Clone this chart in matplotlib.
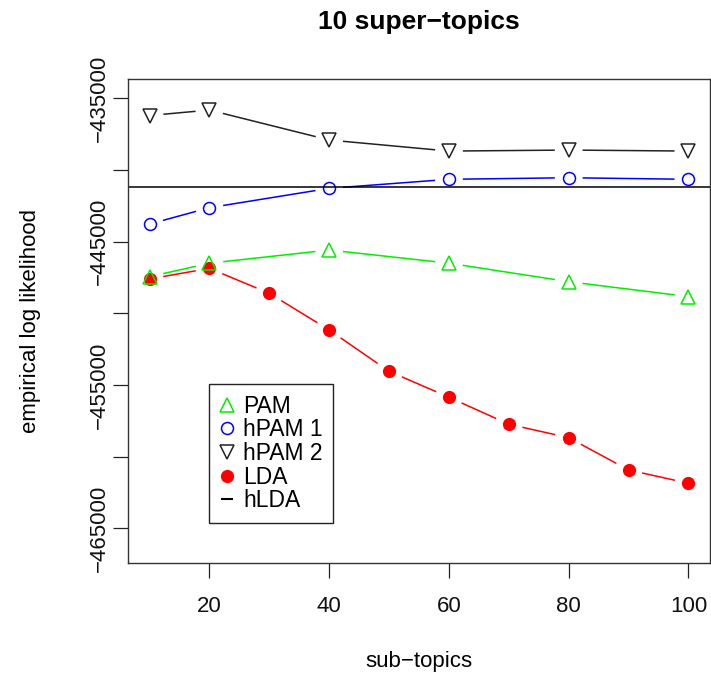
import matplotlib
matplotlib.use('Agg')
import matplotlib.pyplot as plt
import numpy as np

plt.rcParams['font.family'] = ['Liberation Sans', 'DejaVu Sans']

# data
x_pam = [10, 20, 40, 60, 80, 100]
pam = [-447440, -446500, -445580, -446500, -447790, -448830]
hpam1 = [-443770, -442630, -441280, -440650, -440540, -440650]
hpam2 = [-436200, -435820, -437910, -438680, -438610, -438680]
x_lda = [10, 20, 30, 40, 50, 60, 70, 80, 90, 100]
lda = [-447600, -446860, -448600, -451160, -454040, -455850, -457730, -458670, -460920, -461850]
hlda = -441165

yticks = [-435000, -440000, -445000, -450000, -455000, -460000, -465000]
ytick_labels = ['\u2212435000', '', '\u2212445000', '', '\u2212455000', '', '\u2212465000']
xticks = [20, 40, 60, 80, 100]

fig = plt.figure(figsize=(7.11, 6.78), dpi=100)
ax = fig.add_axes([128 / 711, 1 - 563.3 / 678, 582 / 711, (563.3 - 79.3) / 678])
ax.set_xlim(6.4, 103.6)
ax.set_ylim(-467430, -433675)


def gap_line(xs, ys, color, gap_pt=10):
    # R's type="b": segments stop short of each point
    g = gap_pt * fig.dpi / 72
    pts = ax.transData.transform(np.column_stack([xs, ys]))
    inv = ax.transData.inverted()
    for p0, p1 in zip(pts[:-1], pts[1:]):
        d = p1 - p0
        n = np.hypot(*d)
        if n <= 2 * g:
            continue
        u = d / n
        seg = inv.transform(np.array([p0 + u * g, p1 - u * g]))
        ax.plot(seg[:, 0], seg[:, 1], color=color, lw=1.1, solid_capstyle='butt')


gap_line(x_lda, lda, 'red')
ax.plot(x_lda, lda, 'o', color='red', ms=9.5, mew=0, label='LDA')
gap_line(x_pam, pam, '#00ee00')
ax.plot(x_pam, pam, '^', color='#00ee00', mfc='none', ms=10.5, mew=1.1, label='PAM')
gap_line(x_pam, hpam1, 'blue')
ax.plot(x_pam, hpam1, 'o', color='blue', mfc='none', ms=8.6, mew=1.1, label='hPAM 1')
gap_line(x_pam, hpam2, '#222222')
ax.plot(x_pam, hpam2, 'v', color='#222222', mfc='none', ms=10.5, mew=1.1, label='hPAM 2')
ax.axhline(hlda, color='black', lw=1.1)

ax.set_xticks(xticks)
ax.set_xticklabels([str(v) for v in xticks])
ax.set_yticks(yticks)
ax.set_yticklabels(ytick_labels, rotation=90, va='center')
ax.tick_params(axis='both', direction='out', length=10.8, width=0.9, colors='#222222',
               labelsize=16, labelcolor='#111111')
ax.tick_params(axis='x', pad=13)
ax.tick_params(axis='y', pad=2)
for s in ax.spines.values():
    s.set_linewidth(1.0)
    s.set_color('#333333')

handles = [
    plt.Line2D([], [], ls='none', marker='^', color='#00ee00', mfc='none', ms=10.5, mew=1.1),
    plt.Line2D([], [], ls='none', marker='o', color='blue', mfc='none', ms=8.6, mew=1.1),
    plt.Line2D([], [], ls='none', marker='v', color='#222222', mfc='none', ms=10.5, mew=1.1),
    plt.Line2D([], [], ls='none', marker='o', color='red', ms=9.5, mew=0),
    plt.Line2D([], [], ls='none', marker='_', color='black', ms=8, mew=1.5),
]
labels = ['PAM', 'hPAM 1', 'hPAM 2', 'LDA', 'hLDA']
leg = ax.legend(handles, labels, loc='upper left',
                bbox_to_anchor=((209 - 128) / 582, (563.3 - 384.3) / 484),
                fontsize=16.5, frameon=True, fancybox=False, framealpha=1,
                edgecolor='#222222', borderpad=0.45, labelspacing=0.03,
                handlelength=0.7, handletextpad=0.35, borderaxespad=0)
leg.get_frame().set_linewidth(1.0)

fig.text(419 / 711, 1 - 22 / 678, '10 super\u2212topics', ha='center', va='center',
         fontsize=19, fontweight='bold')
fig.text(419 / 711, 1 - 662 / 678, 'sub\u2212topics', ha='center', va='center', fontsize=16)
fig.text(31 / 711, 1 - 321 / 678, 'empirical log likelihood', ha='center', va='center',
         fontsize=16, rotation=90)

fig.savefig('out.png', dpi=100)
